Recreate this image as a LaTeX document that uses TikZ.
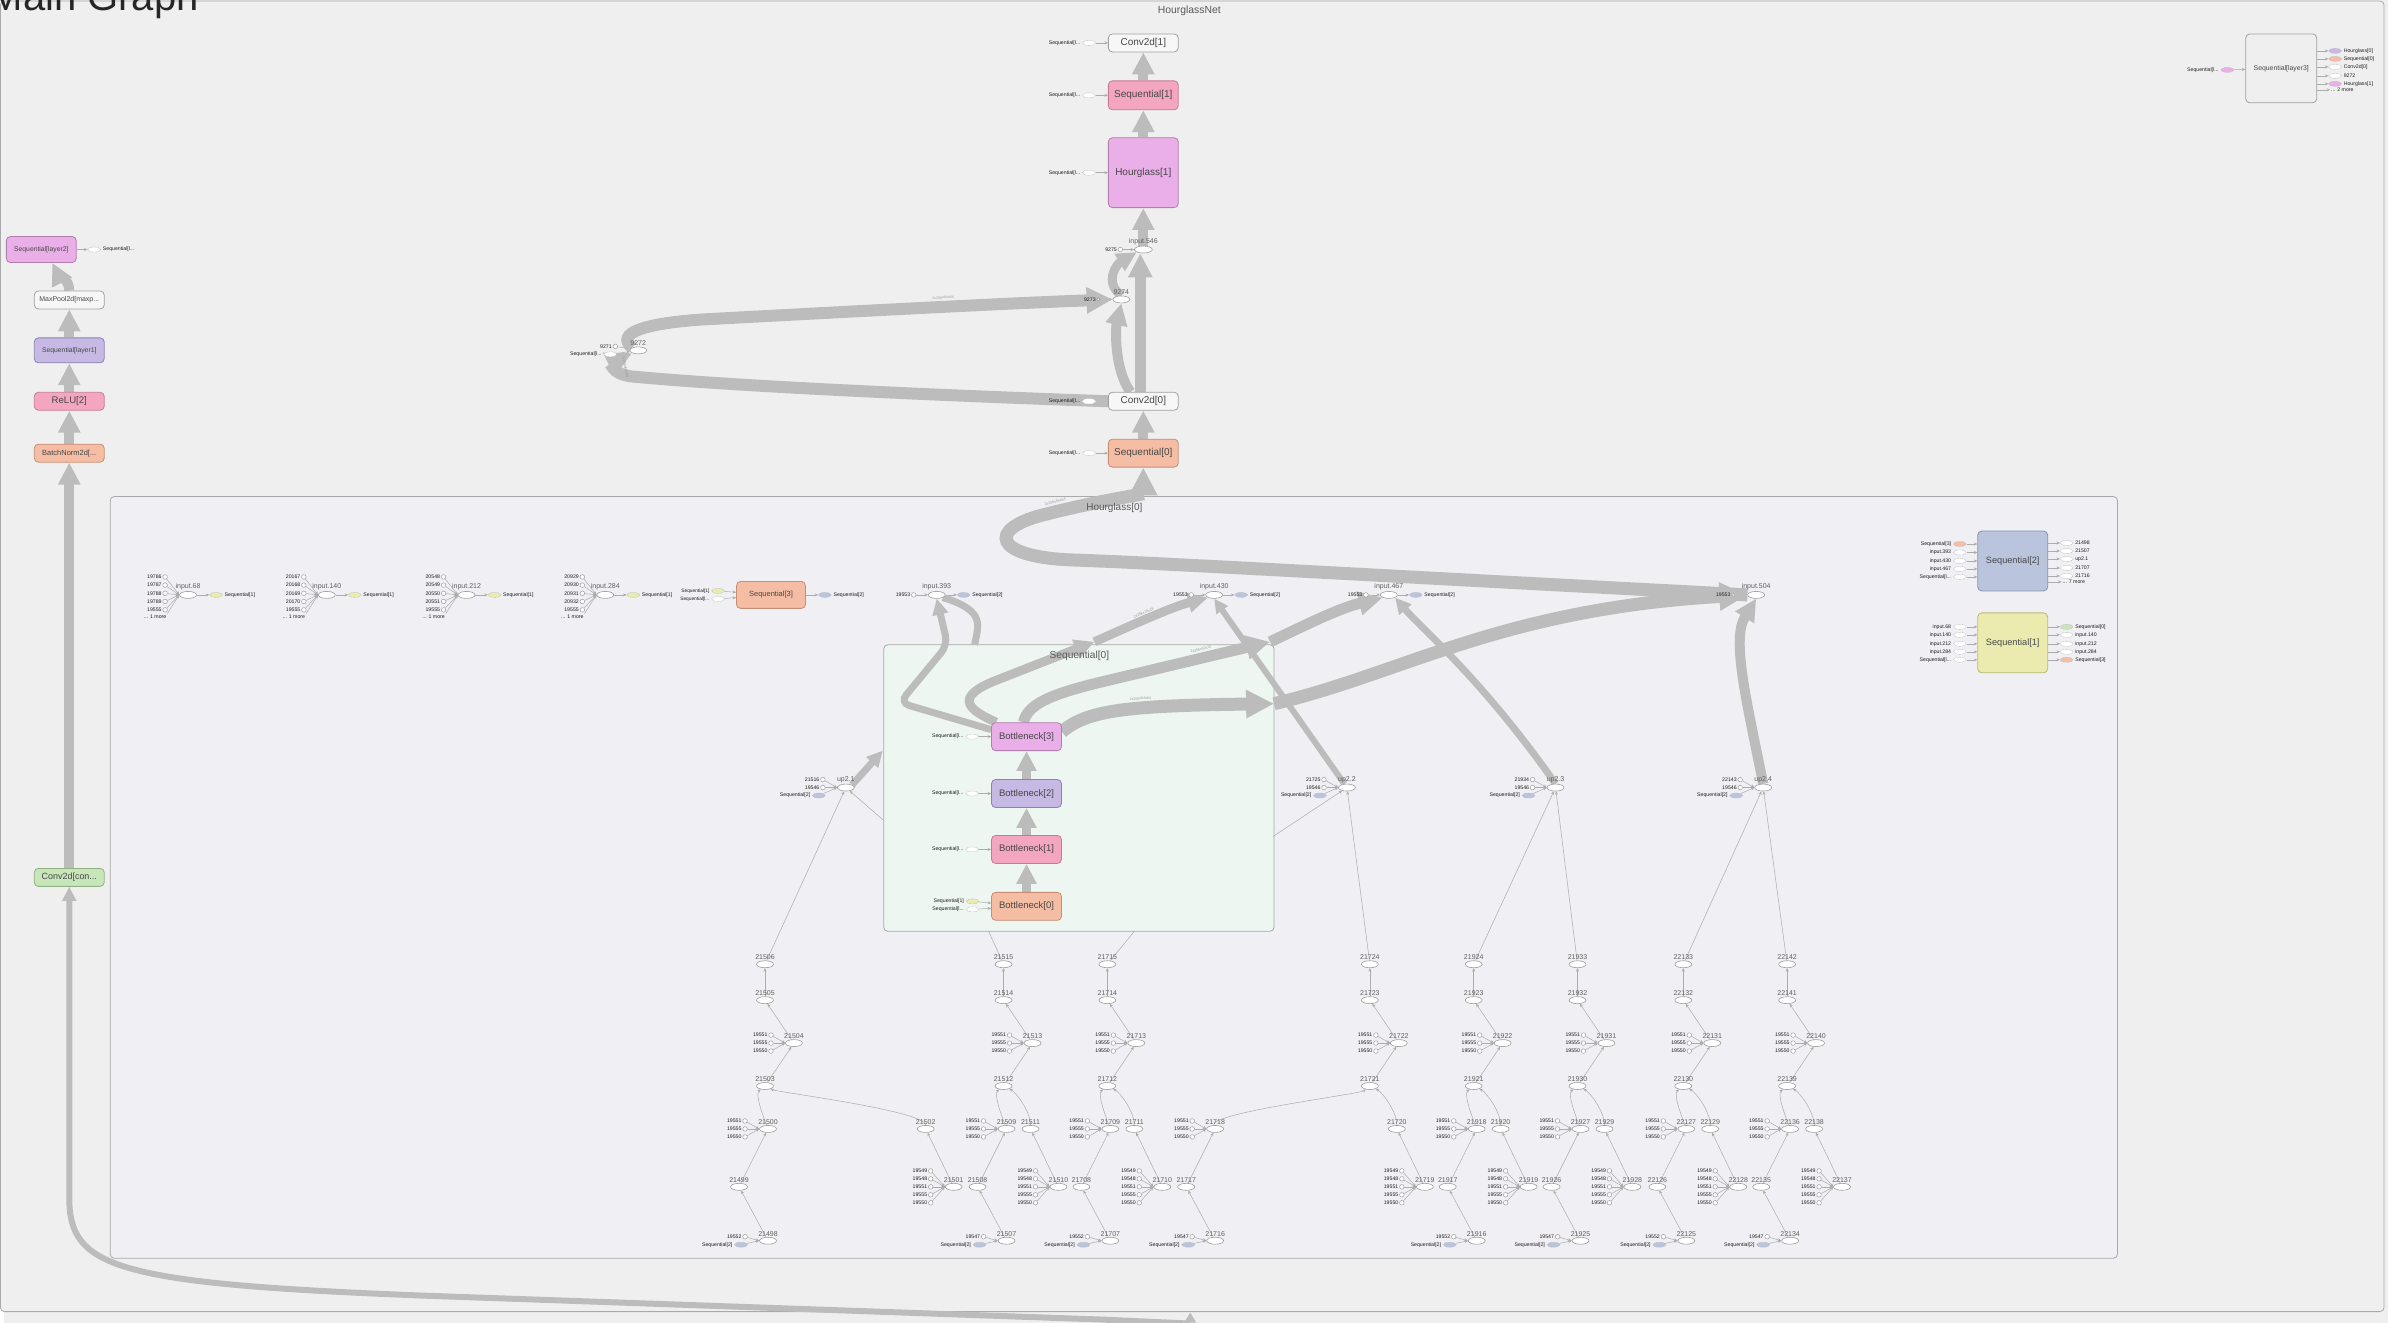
\documentclass[tikz,border=0pt]{standalone}
\usepackage{fontspec}
\setmainfont{Liberation Sans}
\usetikzlibrary{positioning, arrows.meta, calc, shapes.geometric}
\definecolor{canvas}{HTML}{EFEFEF}
\definecolor{hgfill}{HTML}{EFEFF4}
\definecolor{seqfill}{HTML}{EDF6F0}
\definecolor{frameln}{HTML}{A9A9A9}
\definecolor{band}{HTML}{BCBCBC}
\definecolor{wire}{HTML}{ACACAC}
\definecolor{opline}{HTML}{9E9E9E}
\definecolor{plain}{HTML}{F7F7F7}
\definecolor{plainln}{HTML}{A0A0A0}
\definecolor{rose}{HTML}{F4A6C0}
\definecolor{roseln}{HTML}{C67A94}
\definecolor{orchid}{HTML}{EAAEE8}
\definecolor{orchidln}{HTML}{B07FAE}
\definecolor{lilac}{HTML}{C6B9E3}
\definecolor{lilacln}{HTML}{8D81B2}
\definecolor{peach}{HTML}{F5BDA3}
\definecolor{peachln}{HTML}{C68E74}
\definecolor{mint}{HTML}{C8E6BA}
\definecolor{mintln}{HTML}{90B181}
\definecolor{steel}{HTML}{BAC5DD}
\definecolor{steelln}{HTML}{8392B1}
\definecolor{straw}{HTML}{EBEBAF}
\definecolor{strawln}{HTML}{B8B87D}
\newcommand{\fsz}[1]{\fontsize{#1}{#1}\selectfont}
\newcommand{\seqcut}{Sequential[l...}
\pgfdeclarelayer{frame}
\pgfdeclarelayer{edge}
\pgfsetlayers{frame,edge,main}

\begin{document}
\begin{tikzpicture}[x=1pt, y=-1pt,
    mod/.style={rectangle, rounded corners=4pt, line width=0.8pt,
      minimum width=70pt, minimum height=18pt, inner sep=1pt,
      text=black!72, font=\fsz{10}},
    grp/.style={rectangle, rounded corners=4pt, draw=frameln, line width=0.8pt,
      inner sep=0pt},
    op/.style={ellipse, draw=opline, fill=white, line width=0.6pt,
      minimum width=17pt, minimum height=7pt, inner sep=0pt},
    cst/.style={circle, draw=opline, fill=white, line width=0.5pt,
      minimum size=4.6pt, inner sep=0pt},
    stub/.style={ellipse, draw=black!28, dash pattern=on 0.8pt off 0.6pt,
      line width=0.4pt, minimum width=13pt, minimum height=5pt, inner sep=0pt},
    num/.style={font=\fsz{7}, text=black!62, inner sep=0.6pt},
    tiny/.style={font=\fsz{5.2}, text=black!88, inner sep=0.8pt},
    thin/.style={draw=wire, line width=0.5pt, -{Stealth[length=3.5pt, width=3pt]}},
    fat/.style={draw=band, line width=#1, -{Triangle[length=2pt 2, width=2pt 1.9]}},
    fat/.default=10pt,
    trunk/.style={draw=band, line width=#1},
    bandtxt/.style={font=\fsz{3.6}, text=black!40, sloped, inner sep=0pt}]

  % frames
  \begin{pgfonlayer}{frame}
    \fill[canvas] (0,0) rectangle (2388,1325);
    \node[grp, fill=canvas, minimum width=2388pt, minimum height=1313pt] (net) at (1190,657.5) {};
    \node[grp, fill=hgfill, minimum width=2011pt, minimum height=763pt] (hg0) at (1111.5,879) {};
    \node[grp, fill=seqfill, minimum width=391pt, minimum height=287pt] (sq0) at (1076.5,789.5) {};
  \end{pgfonlayer}
  \useasboundingbox (0,0) rectangle (2388,1325);

  \node[anchor=base west, font=\fsz{40}, text=black!85] (maintitle) at (-18,11) {Main Graph};
  \node[font=\fsz{10.4}, text=black!65] (nettitle) at (1187,11) {HourglassNet};
  \node[font=\fsz{10}, text=black!65] (hgtitle) at (1112,509) {Hourglass[0]};
  \node[font=\fsz{10.2}, text=black!65] (sqtitle) at (1077,657) {Sequential[0]};

  % top level column
  \node[mod, fill=plain, draw=plainln] (conv1) at (1141,43) {Conv2d[1]};
  \node[mod, fill=rose, draw=roseln, minimum height=29pt] (seq1) at (1141,95.5) {Sequential[1]};
  \node[mod, fill=orchid, draw=orchidln, minimum height=70pt] (hg1) at (1141,173) {Hourglass[1]};
  \node[op, minimum width=18pt, label={[num]above:input.546}] (in546) at (1141,250) {};
  \node[op, label={[num]above:9274}] (o9274) at (1119,300) {};
  \node[op, label={[num]above:9272}] (o9272) at (635,351) {};
  \node[mod, fill=plain, draw=plainln] (conv0) at (1141,402) {Conv2d[0]};
  \node[mod, fill=peach, draw=peachln, minimum height=28pt] (seq0) at (1141,454) {Sequential[0]};
  \foreach \m in {conv1,seq1,hg1,seq0}{
    \node[stub, fill=white] (s\m) at ($(\m.west)+(-19,0)$) {};
    \node[tiny, left=1pt of s\m] {\seqcut};
    \begin{pgfonlayer}{edge}
      \draw[thin] (s\m) -- (\m);
    \end{pgfonlayer}
  }
  \node[stub, fill=white, draw=white] (sconv0) at ($(conv0.west)+(-19,0)$) {};
  \node[tiny, left=1pt of sconv0] {\seqcut};
  \node[cst, label={[tiny]left:9275}] (k9275) at (1118,250) {};
  \node[cst, minimum size=3pt, label={[tiny]left:9273}] (k9273) at (1096,300) {};
  \node[cst, label={[tiny]left:9271}] (k9271) at (612,347) {};
  \node[stub, fill=white] (s9272) at (607,355) {};
  \node[tiny, left=1pt of s9272] {\seqcut};

  % left column
  \node[mod, fill=orchid, draw=orchidln, font=\fsz{6.8}, minimum height=26pt] (lay2) at (37,250) {Sequential[layer2]};
  \node[mod, fill=plain, draw=plainln, font=\fsz{7}] (mpool) at (65,300.5) {MaxPool2d[maxp...};
  \node[mod, fill=lilac, draw=lilacln, font=\fsz{6.8}, minimum height=25pt] (lay1) at (65,351) {Sequential[layer1]};
  \node[mod, fill=rose, draw=roseln, font=\fsz{9.6}] (relu) at (65,402) {ReLU[2]};
  \node[mod, fill=peach, draw=peachln, font=\fsz{7.5}] (bn) at (65,454) {BatchNorm2d[...};
  \node[mod, fill=mint, draw=mintln, font=\fsz{9}] (cconv) at (65,879) {Conv2d[con...};
  \node[stub, fill=white] (l2s) at (90,250) {};
  \node[tiny, right=1pt of l2s] {\seqcut};
  \coordinate (inp) at (1188,1326);

  % layer3 summary
  \node[mod, fill=canvas, draw=plainln, font=\fsz{6.9}, minimum width=71pt, minimum height=69pt] (lay3) at (2281,68.5) {Sequential[layer3]};
  \node[stub, fill=orchid] (l3in) at (2227,70) {};
  \node[tiny, left=1pt of l3in] {\seqcut};
  \foreach \y/\t/\f [count=\j] in {51/Hourglass[0]/lilac, 59/Sequential[0]/peach,
      67/Conv2d[0]/white, 76/9272/white, 84/Hourglass[1]/orchid}{
    \node[stub, fill=\f] (l3o\j) at (2335,\y) {};
    \node[tiny, right=1pt of l3o\j] {\t};
  }
  \node[tiny, anchor=west] (l3more) at (2330,90) {... 2 more};

  % inputs of Hourglass[0]
  \foreach \xe/\m/\nm in {184/19786/68, 323/20167/140, 463/20548/212, 602/20929/284}{
    \node[op, label={[num]above:input.\nm}] (in\nm) at (\xe,596) {};
    \foreach \j in {0,...,3}{
      \edef\mm{\the\numexpr\m+\j\relax}
      \node[cst, label={[tiny]left:\mm}] (inc\nm\j) at (\xe-23,578+8.2*\j) {};
    }
    \node[cst, label={[tiny]left:19555}] (inc\nm4) at (\xe-23,611) {};
    \node[tiny] (inm\nm) at (\xe-33,617.5) {... 1 more};
    \node[stub, fill=straw] (ins\nm) at (\xe+28,596) {};
    \node[tiny, right=1pt of ins\nm] {Sequential[1]};
    \begin{pgfonlayer}{edge}
      \foreach \j in {0,...,4}{\draw[thin] (inc\nm\j) -- (in\nm.west);}
      \draw[thin] (inm\nm.north east) -- (in\nm.west);
      \draw[thin] (in\nm) -- (ins\nm);
    \end{pgfonlayer}
  }
  \node[mod, fill=peach, draw=peachln, font=\fsz{7.5}, minimum width=69pt, minimum height=27pt] (seq3) at (768,596) {Sequential[3]};
  \node[stub, fill=straw] (s3a) at (715,592) {};
  \node[tiny, left=1pt of s3a, font=\fsz{4.8}] {Sequential[1]};
  \node[stub, fill=white] (s3b) at (715,600) {};
  \node[tiny, left=1pt of s3b, font=\fsz{4.8}] {\seqcut};
  \node[stub, fill=steel] (s3o) at (822,596) {};
  \node[tiny, right=1pt of s3o] {Sequential[2]};
  \foreach \xe/\nm in {934/393, 1212/430, 1387/467}{
    \node[op, label={[num]above:input.\nm}] (in\nm) at (\xe,596) {};
    \node[cst, label={[tiny]left:19553}] (ink\nm) at (\xe-23,596) {};
    \node[stub, fill=steel] (ins\nm) at (\xe+27,596) {};
    \node[tiny, right=1pt of ins\nm] {Sequential[2]};
    \begin{pgfonlayer}{edge}
      \draw[thin] (ink\nm) -- (in\nm);
      \draw[thin] (in\nm) -- (ins\nm);
    \end{pgfonlayer}
  }
  \node[op, label={[num]above:input.504}] (in504) at (1755,596) {};
  \node[cst, minimum size=3pt, label={[tiny]left:19553}] (ink504) at (1732,596) {};

  % Sequential[0] contents
  \node[mod, fill=orchid, draw=orchidln, font=\fsz{9.5}, minimum height=28pt] (b3) at (1024,738) {Bottleneck[3]};
  \node[mod, fill=lilac, draw=lilacln, font=\fsz{9.5}, minimum height=28pt] (b2) at (1024,795) {Bottleneck[2]};
  \node[mod, fill=rose, draw=roseln, font=\fsz{9.5}, minimum height=28pt] (b1) at (1024,851) {Bottleneck[1]};
  \node[mod, fill=peach, draw=peachln, font=\fsz{9.5}, minimum height=28pt] (b0) at (1024,908) {Bottleneck[0]};
  \foreach \m in {b3,b2,b1}{
    \node[stub, fill=white] (s\m) at ($(\m.west)+(-19,0)$) {};
    \node[tiny, left=1pt of s\m] {\seqcut};
  }
  \node[stub, fill=straw] (sb0a) at (970,903) {};
  \node[tiny, left=1pt of sb0a] {Sequential[1]};
  \node[stub, fill=white] (sb0b) at (970,911) {};
  \node[tiny, left=1pt of sb0b] {\seqcut};

  % right summaries
  \node[mod, fill=steel, draw=steelln, font=\fsz{9.2}, minimum height=60pt] (seq2) at (2012,562) {Sequential[2]};
  \node[mod, fill=straw, draw=strawln, font=\fsz{9.2}, minimum height=60pt] (seq1b) at (2012,644) {Sequential[1]};
  \foreach \y/\t/\f [count=\j] in {545/Sequential[3]/peach, 553.5/input.393/white,
      562/input.430/white, 570/input.467/white, 578/\seqcut/white}{
    \node[stub, fill=\f] (q2i\j) at (1959,\y) {};
    \node[tiny, left=1pt of q2i\j] {\t};
  }
  \foreach \y/\t [count=\j] in {544/21498, 552/21507, 560/up2.1, 569/21707, 577/21716}{
    \node[stub, fill=white] (q2o\j) at (2066,\y) {};
    \node[tiny, right=1pt of q2o\j] {\t};
  }
  \node[tiny, anchor=west] (q2more) at (2061,583) {... 7 more};
  \foreach \y/\t/\f [count=\j] in {628/input.68/white, 636/input.140/white,
      645/input.212/white, 653/input.284/white, 661/\seqcut/white}{
    \node[stub, fill=\f] (q1i\j) at (1959,\y) {};
    \node[tiny, left=1pt of q1i\j] {\t};
  }
  \foreach \y/\t/\f [count=\j] in {628/Sequential[0]/mint, 636/input.140/white,
      645/input.212/white, 653/input.284/white, 661/Sequential[3]/peach}{
    \node[stub, fill=\f] (q1o\j) at (2066,\y) {};
    \node[tiny, right=1pt of q1o\j] {\t};
  }

  % up sampling adds
  \foreach \u/\x/\c in {1/843/21516, 2/1345/21725, 3/1554/21934, 4/1762/22143}{
    \node[op, label={[num]above:up2.\u}] (up\u) at (\x,789) {};
    \node[cst, label={[tiny]left:\c}] (uc\u) at (\x-23,781) {};
    \node[cst, label={[tiny]left:19546}] (ud\u) at (\x-23,789) {};
    \node[stub, fill=steel] (uq\u) at (\x-27,797) {};
    \node[tiny, left=1pt of uq\u] {Sequential[2]};
    \begin{pgfonlayer}{edge}
      \draw[thin] (uc\u) -- (up\u.west);
      \draw[thin] (ud\u) -- (up\u.west);
      \draw[thin] (uq\u) -- (up\u.west);
    \end{pgfonlayer}
  }

  % residual chains
  \foreach \X/\n/\L/\R/\k in {762/21498/765/951/19552, 1001/21507/1004/1056/19547,
      1105/21707/1108/1160/19552, 1368/21716/1213/1423/19547,
      1472/21916/1475/1527/19552, 1576/21925/1579/1631/19547,
      1682/22125/1685/1737/19552, 1786/22134/1789/1841/19547}{
    \edef\nA{\the\numexpr\n+1\relax}
    \edef\nB{\the\numexpr\n+2\relax}
    \edef\nC{\the\numexpr\n+3\relax}
    \edef\nD{\the\numexpr\n+4\relax}
    \edef\nE{\the\numexpr\n+5\relax}
    \edef\nF{\the\numexpr\n+6\relax}
    \edef\nG{\the\numexpr\n+7\relax}
    \edef\nH{\the\numexpr\n+8\relax}
    \node[op, label={[num]above:\n}] (c\n) at (\L,1243) {};
    \node[op, label={[num]above:\nA}] (c\nA) at (\L-29,1189) {};
    \node[op, label={[num]above:\nB}] (c\nB) at (\L,1131) {};
    \node[op, label={[num]above:\nC}] (c\nC) at (\R,1189) {};
    \node[op, label={[num]above:\nD}] (c\nD) at (\R-28,1131) {};
    \node[op, label={[num]above:\nE}] (c\nE) at (\X,1088) {};
    \node[op, label={[num]above:\nF}] (c\nF) at (\X+29,1045) {};
    \node[op, label={[num]above:\nG}] (c\nG) at (\X,1002) {};
    \node[op, label={[num]above:\nH}] (c\nH) at (\X,966) {};
    \node[cst, label={[tiny]left:\k}] (k\n) at (\L-23,1239) {};
    \node[stub, fill=steel] (q\n) at (\L-27,1247) {};
    \node[tiny, left=1pt of q\n] {Sequential[2]};
    \foreach \v [count=\j from 0] in {19551,19555,19550}{
      \node[cst, label={[tiny]left:\v}] (t\nB\j) at (\L-23,1123+8*\j) {};
      \node[cst, label={[tiny]left:\v}] (t\nF\j) at (\X+6,1037+8*\j) {};
    }
    \foreach \v [count=\j from 0] in {19549,19548,19551,19555,19550}{
      \node[cst, label={[tiny]left:\v}] (t\nC\j) at (\R-23,1173+8*\j) {};
    }
    \begin{pgfonlayer}{edge}
      \draw[thin] (k\n) -- (c\n.west);
      \draw[thin] (q\n) -- (c\n.west);
      \foreach \j in {0,1,2}{
        \draw[thin] (t\nB\j) -- (c\nB.west);
        \draw[thin] (t\nF\j) -- (c\nF.west);
      }
      \foreach \j in {0,...,4}{\draw[thin] (t\nC\j) -- (c\nC.west);}
      \draw[thin] (c\n) -- (c\nA);
      \draw[thin] (c\nA) -- (c\nB);
      \draw[thin] (c\nB) .. controls +(-6,-16) and +(-10,8) .. (c\nE);
      \draw[thin] (c\nC) -- (c\nD);
      \draw[thin] (c\nD) .. controls +(0,-18) and +(12,6) .. (c\nE);
      \draw[thin] (c\nE) -- (c\nF);
      \draw[thin] (c\nF) -- (c\nG);
      \draw[thin] (c\nG) -- (c\nH);
    \end{pgfonlayer}
  }

  \coordinate (sq0w) at (881,822);
  \coordinate (sq0e) at (1271,838);
  \coordinate (sq0b) at (986,933);
  \coordinate (sq0c) at (1132,933);
  \coordinate (sq0t) at (972,646);
  \coordinate (e430) at (1092,643);
  \coordinate (e467) at (1268,643);
  \coordinate (e504) at (1272,705);

  \begin{pgfonlayer}{edge}
    % thin links around the adds
    \draw[thin] (c21506) -- (up1);
    \draw[thin] (sq0w) -- (up1);
    \draw[thin] (c21724) -- (up2);
    \draw[thin] (sq0e) -- (up2);
    \draw[thin] (c21924) -- (up3);
    \draw[thin] (c21933) -- (up3);
    \draw[thin] (c22133) -- (up4);
    \draw[thin] (c22142) -- (up4);
    \draw[wire, line width=0.5pt] (c21515) -- (sq0b);
    \draw[wire, line width=0.5pt] (c21715) -- (sq0c);
    \draw[thin] (ink504) -- (in504);
    \draw[thin] (s3a) -- (seq3);
    \draw[thin] (s3b) -- (seq3);
    \draw[thin] (seq3) -- (s3o);
    \foreach \m in {b3,b2,b1}{\draw[thin] (s\m) -- (\m);}
    \draw[thin] (sb0a) -- (b0);
    \draw[thin] (sb0b) -- (b0);
    \foreach \j in {1,...,5}{
      \draw[thin] (q2i\j) -- (seq2.west |- q2i\j);
      \draw[thin] (seq2.east |- q2o\j) -- (q2o\j);
      \draw[thin] (q1i\j) -- (seq1b.west |- q1i\j);
      \draw[thin] (seq1b.east |- q1o\j) -- (q1o\j);
    }
    \draw[thin] (seq2.east |- q2more) -- (q2more);
    \draw[thin] (l3in) -- (lay3);
    \foreach \j in {1,...,5}{\draw[thin] (lay3.east |- l3o\j) -- (l3o\j);}
    \draw[thin] (lay3.east |- l3more) -- (l3more);
    \draw[thin] (lay2) -- (l2s);
    \draw[thin] (k9275) -- (in546);
    \draw[thin] (k9273) -- (o9274);
    \draw[thin] (k9271) -- (o9272);
    \draw[thin] (s9272) -- (o9272);

    % thick tensors, left column
    \draw[fat=6pt] (inp) -- (1100,1322) -- (420,1298) .. controls (110,1286) and (65,1270) .. (65,1200) -- (cconv);
    \draw[fat] (cconv) -- (bn);
    \draw[fat] (bn) -- (relu);
    \draw[fat] (relu) -- (lay1);
    \draw[fat] (lay1) -- (mpool);
    \draw[fat] (mpool.north) .. controls +(0,-12) and +(5,10) .. ($(lay2.south)+(11,0)$);

    % thick tensors, top column
    \draw[fat] (seq0) -- (conv0);
    \draw[fat=11pt] ($(conv0.north)+(-3,0)$) -- ($(in546.south)+(-3,0)$);
    \draw[fat=10pt] ($(conv0.north)+(-13,0)$) .. controls (1112,370) and (1113,330) .. (o9274.south);
    \draw[fat=9pt] (o9274.north) .. controls +(-18,-14) and +(-20,12) .. (in546.south west);
    \draw[fat=12pt] (conv0.west) .. controls (850,393) and (700,384) .. (627,377)
      .. controls (608,374) and (608,364) .. (o9272.south west)
      node[bandtxt, pos=0.45, above=2pt] {2x256x64x64};
    \draw[fat=12pt] (o9272.north west) .. controls (612,334) and (640,324) .. (700,320)
      .. controls (850,312) and (1000,304) .. (o9274.west)
      node[bandtxt, pos=0.55, above=2pt] {2x256x64x64};
    \draw[fat] (in546) -- (hg1);
    \draw[fat] (hg1) -- (seq1);
    \draw[fat] (seq1) -- (conv1);

    % thick tensors, Hourglass[0]
    \draw[fat=9pt] (b0) -- (b1);
    \draw[fat=9pt] (b1) -- (b2);
    \draw[fat=9pt] (b2) -- (b3);
    \draw[fat=7pt, rounded corners=10pt] ($(b3.west)+(0,-7)$) -- (897,704) -- (945,646) -- (in393.south);
    \draw[trunk=7pt] (in393.south east) .. controls (985,612) and (975,628) .. (sq0t);
    \draw[fat=9pt] ($(b3.north west)+(5,0)$) .. controls (968,712) and (950,700) .. (990,683) -- (e430);
    \draw[fat=9pt] (e430) .. controls (1130,626) and (1170,608) .. (in430.south west)
      node[bandtxt, pos=0.45, above=1pt] {2x256x16x16};
    \draw[fat=11pt] ($(b3.north)+(-3,0)$) .. controls (1025,705) and (1050,695) .. (1100,683) -- (e467)
      node[bandtxt, pos=0.6, above=2pt] {2x256x32x32};
    \draw[fat=11pt] (e467) .. controls (1300,628) and (1335,610) .. (in467.south west);
    \draw[fat=13pt] ($(b3.east)+(0,-5)$) .. controls (1085,712) and (1120,707) .. (e504)
      node[bandtxt, pos=0.6, above=2pt] {2x256x64x64};
    \draw[fat=13pt] (e504) .. controls (1400,675) and (1500,610) .. (in504.west);
    \draw[fat=6pt] (up2) -- (in430.south);
    \draw[fat=7pt] (up3.north) .. controls (1480,680) and (1420,630) .. (in467.south east);
    \draw[fat=10pt] (up4.north) .. controls (1745,700) and (1730,640) .. (in504.south);
    \draw[fat=7pt] (up1.north east) -- (880,752);
    \draw[fat=13pt] (in504.west) .. controls (1400,578) and (1160,564) .. (1070,561)
      .. controls (990,558) and (985,530) .. (1040,516)
      .. controls (1090,503) and (1141,495) .. (seq0.south)
      node[bandtxt, pos=0.1, above=2pt] {2x256x64x64};
  \end{pgfonlayer}
  \fill[band] (1182,1325) -- (1188,1315) -- (1194,1325) -- cycle;
\end{tikzpicture}
\end{document}
